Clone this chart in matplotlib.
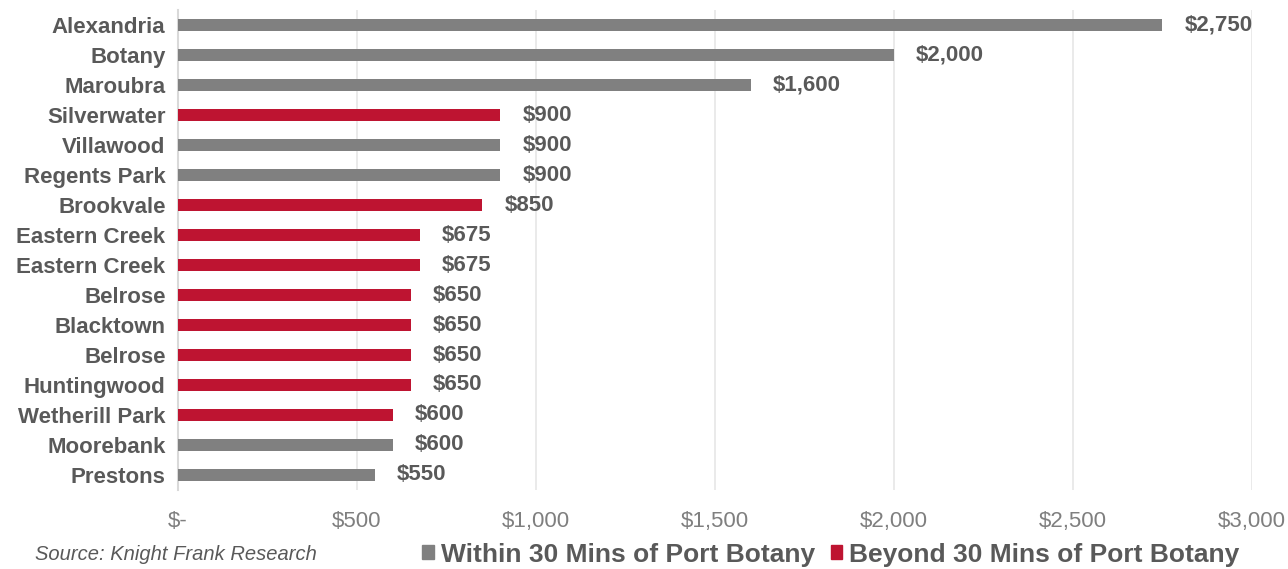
import matplotlib
import matplotlib.pyplot as plt
from matplotlib.patches import Patch

matplotlib.use("Agg")

plt.rcParams["font.family"] = ["Liberation Sans", "DejaVu Sans"]

suburbs = [
    "Alexandria", "Botany", "Maroubra", "Silverwater", "Villawood",
    "Regents Park", "Brookvale", "Eastern Creek", "Eastern Creek", "Belrose",
    "Blacktown", "Belrose", "Huntingwood", "Wetherill Park", "Moorebank",
    "Prestons",
]
rents = [2750, 2000, 1600, 900, 900, 900, 850, 675, 675, 650, 650, 650, 650, 600, 600, 550]
within_30 = [True, True, True, False, True, True, False, False, False, False,
             False, False, False, False, True, True]
x_ticks = [0, 500, 1000, 1500, 2000, 2500, 3000]
x_tick_labels = ["$-", "$500", "$1,000", "$1,500", "$2,000", "$2,500", "$3,000"]

GREY = "#808080"
RED = "#BE1431"
TEXT = "#595959"

fig = plt.figure(figsize=(12.88, 5.69), dpi=100)
ax = fig.add_axes([0.1382, 0.139, 0.8338, 0.843])

colors = [GREY if w else RED for w in within_30]
ypos = list(range(len(suburbs)))
ax.barh(ypos, rents, height=0.4, color=colors, zorder=3)

for y, v in zip(ypos, rents):
    ax.annotate(f"${v:,}", xy=(v, y), xytext=(16, 0), textcoords="offset points",
                ha="left", va="center", fontsize=16, fontweight="bold", color=TEXT)

ax.set_xlim(0, 3000)
ax.set_ylim(len(suburbs) - 0.5, -0.5)
ax.set_yticks(ypos)
ax.set_yticklabels(suburbs, fontsize=16, fontweight="bold", color=TEXT)
ax.set_xticks(x_ticks)
ax.set_xticklabels(x_tick_labels, fontsize=16, color="#7F7F7F")
ax.tick_params(axis="both", length=0)
ax.tick_params(axis="x", pad=15)
ax.tick_params(axis="y", pad=9)
ax.grid(axis="x", color="#E6E6E6", linewidth=1.2, zorder=0)

for side in ["top", "right", "bottom"]:
    ax.spines[side].set_visible(False)
ax.spines["left"].set_color("#D9D9D9")
ax.spines["left"].set_linewidth(1.5)

fig.text(0.027, 0.025, "Source: Knight Frank Research", fontsize=14.5, style="italic",
         color=TEXT, ha="left", va="center")

handles = [Patch(color=GREY, label="Within 30 Mins of Port Botany"),
           Patch(color=RED, label="Beyond 30 Mins of Port Botany")]
leg = fig.legend(handles=handles, loc="center", bbox_to_anchor=(0.645, 0.025), ncol=2,
                 frameon=False, handlelength=0.45, handleheight=0.45, handletextpad=0.25,
                 columnspacing=0.6, borderpad=0, prop={"weight": "bold", "size": 19})
for t in leg.get_texts():
    t.set_color(TEXT)

fig.savefig("out.png", dpi=100)
